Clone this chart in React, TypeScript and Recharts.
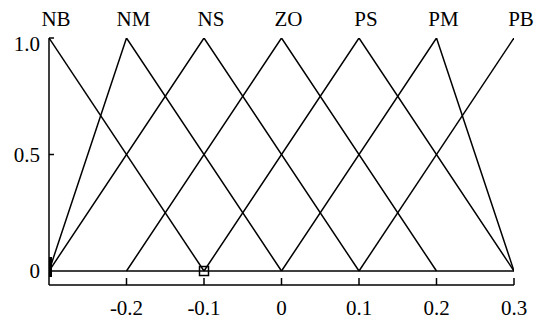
import React from "react";
import { ComposedChart, Line, Scatter, XAxis, YAxis } from "recharts";

const setNames = ["NB", "NM", "NS", "ZO", "PS", "PM", "PB"];
const peakPositions = [-0.3, -0.2, -0.1, 0, 0.1, 0.2, 0.3];
const xTicks = [-0.2, -0.1, 0, 0.1, 0.2, 0.3];
const xTickLabels = ["-0.2", "-0.1", "0", "0.1", "0.2", "0.3"];
const yTicks = [0, 0.5, 1];
const yTickLabels = ["0", "0.5", "1.0"];

const NB = [{ x: -0.3, y: 1 }, { x: -0.1, y: 0 }];
const NM = [{ x: -0.3, y: 0 }, { x: -0.2, y: 1 }, { x: 0, y: 0 }];
const NS = [{ x: -0.3, y: 0 }, { x: -0.1, y: 1 }, { x: 0.1, y: 0 }];
const ZO = [{ x: -0.2, y: 0 }, { x: 0, y: 1 }, { x: 0.2, y: 0 }];
const PS = [{ x: -0.1, y: 0 }, { x: 0.1, y: 1 }, { x: 0.3, y: 0 }];
const PM = [{ x: 0, y: 0 }, { x: 0.2, y: 1 }, { x: 0.3, y: 0 }];
const PB = [{ x: 0.1, y: 0 }, { x: 0.3, y: 1 }];
const baseline = [{ x: -0.3, y: 0 }, { x: 0.3, y: 0 }];
const barMarker = [{ x: -0.3, y: 0 }];
const squareMarker = [{ x: -0.1, y: 0 }];

const seriesList = [NB, NM, NS, ZO, PS, PM, PB, baseline];

const FONT = "Liberation Serif, Times New Roman, serif";

const BottomTick = (props: any) => {
  const { x, y, payload } = props;
  const i = xTicks.indexOf(payload.value);
  return (
    <g>
      <line x1={x} x2={x} y1={y} y2={y - 7} stroke="#000" strokeWidth={1.5} />
      <text x={x} y={y + 30} textAnchor="middle" fontFamily={FONT} fontSize={21} fill="#000">
        {i >= 0 ? xTickLabels[i] : ""}
      </text>
    </g>
  );
};

const LeftTick = (props: any) => {
  const { x, y, payload } = props;
  const i = yTicks.indexOf(payload.value);
  return (
    <g>
      {payload.value !== 0 && (
        <line x1={x} x2={x + 5} y1={y} y2={y} stroke="#000" strokeWidth={1.5} />
      )}
      <text
        x={x - 9}
        y={y + (payload.value === 1 ? 6 : 0)}
        textAnchor="end"
        dominantBaseline="central"
        fontFamily={FONT}
        fontSize={21}
        fill="#000"
      >
        {i >= 0 ? yTickLabels[i] : ""}
      </text>
    </g>
  );
};

const TopTick = (props: any) => {
  const { x, y, payload } = props;
  const i = peakPositions.indexOf(payload.value);
  return (
    <text x={x + 7} y={y - 12} textAnchor="middle" fontFamily={FONT} fontSize={21} fill="#000">
      {i >= 0 ? setNames[i] : ""}
    </text>
  );
};

const BarShape = (props: any) => {
  const { cx, cy } = props;
  return <rect x={cx - 1} y={cy - 14} width={4} height={20} fill="#000" />;
};

const SquareShape = (props: any) => {
  const { cx, cy } = props;
  return <rect x={cx - 4.5} y={cy - 4.5} width={9} height={9} fill="none" stroke="#000" strokeWidth={1.5} />;
};

export default function App() {
  return (
    <div style={{ position: "absolute", left: 0, top: 0, background: "#fff" }}>
      <ComposedChart width={550} height={320} margin={{ top: 0, right: 36, bottom: 0, left: 0 }}>
        <XAxis
          xAxisId="bottom"
          dataKey="x"
          type="number"
          domain={[-0.3, 0.3]}
          ticks={xTicks}
          allowDataOverflow
          height={35}
          tickSize={0}
          tickMargin={0}
          tickLine={false}
          axisLine={{ stroke: "#000", strokeWidth: 1.5 }}
          tick={<BottomTick />}
          interval={0}
        />
        <XAxis
          xAxisId="top"
          orientation="top"
          dataKey="x"
          type="number"
          domain={[-0.3, 0.3]}
          ticks={peakPositions}
          allowDataOverflow
          height={38}
          tickSize={0}
          tickMargin={0}
          tickLine={false}
          axisLine={false}
          tick={<TopTick />}
          interval={0}
        />
        <YAxis
          dataKey="y"
          type="number"
          domain={[-0.06, 1]}
          ticks={yTicks}
          allowDataOverflow
          width={49}
          tickSize={0}
          tickMargin={0}
          tickLine={false}
          axisLine={{ stroke: "#000", strokeWidth: 1.5 }}
          tick={<LeftTick />}
          interval={0}
        />
        {seriesList.map((d, k) => (
          <Line
            key={k}
            xAxisId="bottom"
            data={d}
            dataKey="y"
            type="linear"
            stroke="#000"
            strokeWidth={1.5}
            dot={false}
            activeDot={false}
            isAnimationActive={false}
          />
        ))}
        <Scatter xAxisId="bottom" data={barMarker} dataKey="y" shape={<BarShape />} isAnimationActive={false} />
        <Scatter xAxisId="bottom" data={squareMarker} dataKey="y" shape={<SquareShape />} isAnimationActive={false} />
      </ComposedChart>
    </div>
  );
}
